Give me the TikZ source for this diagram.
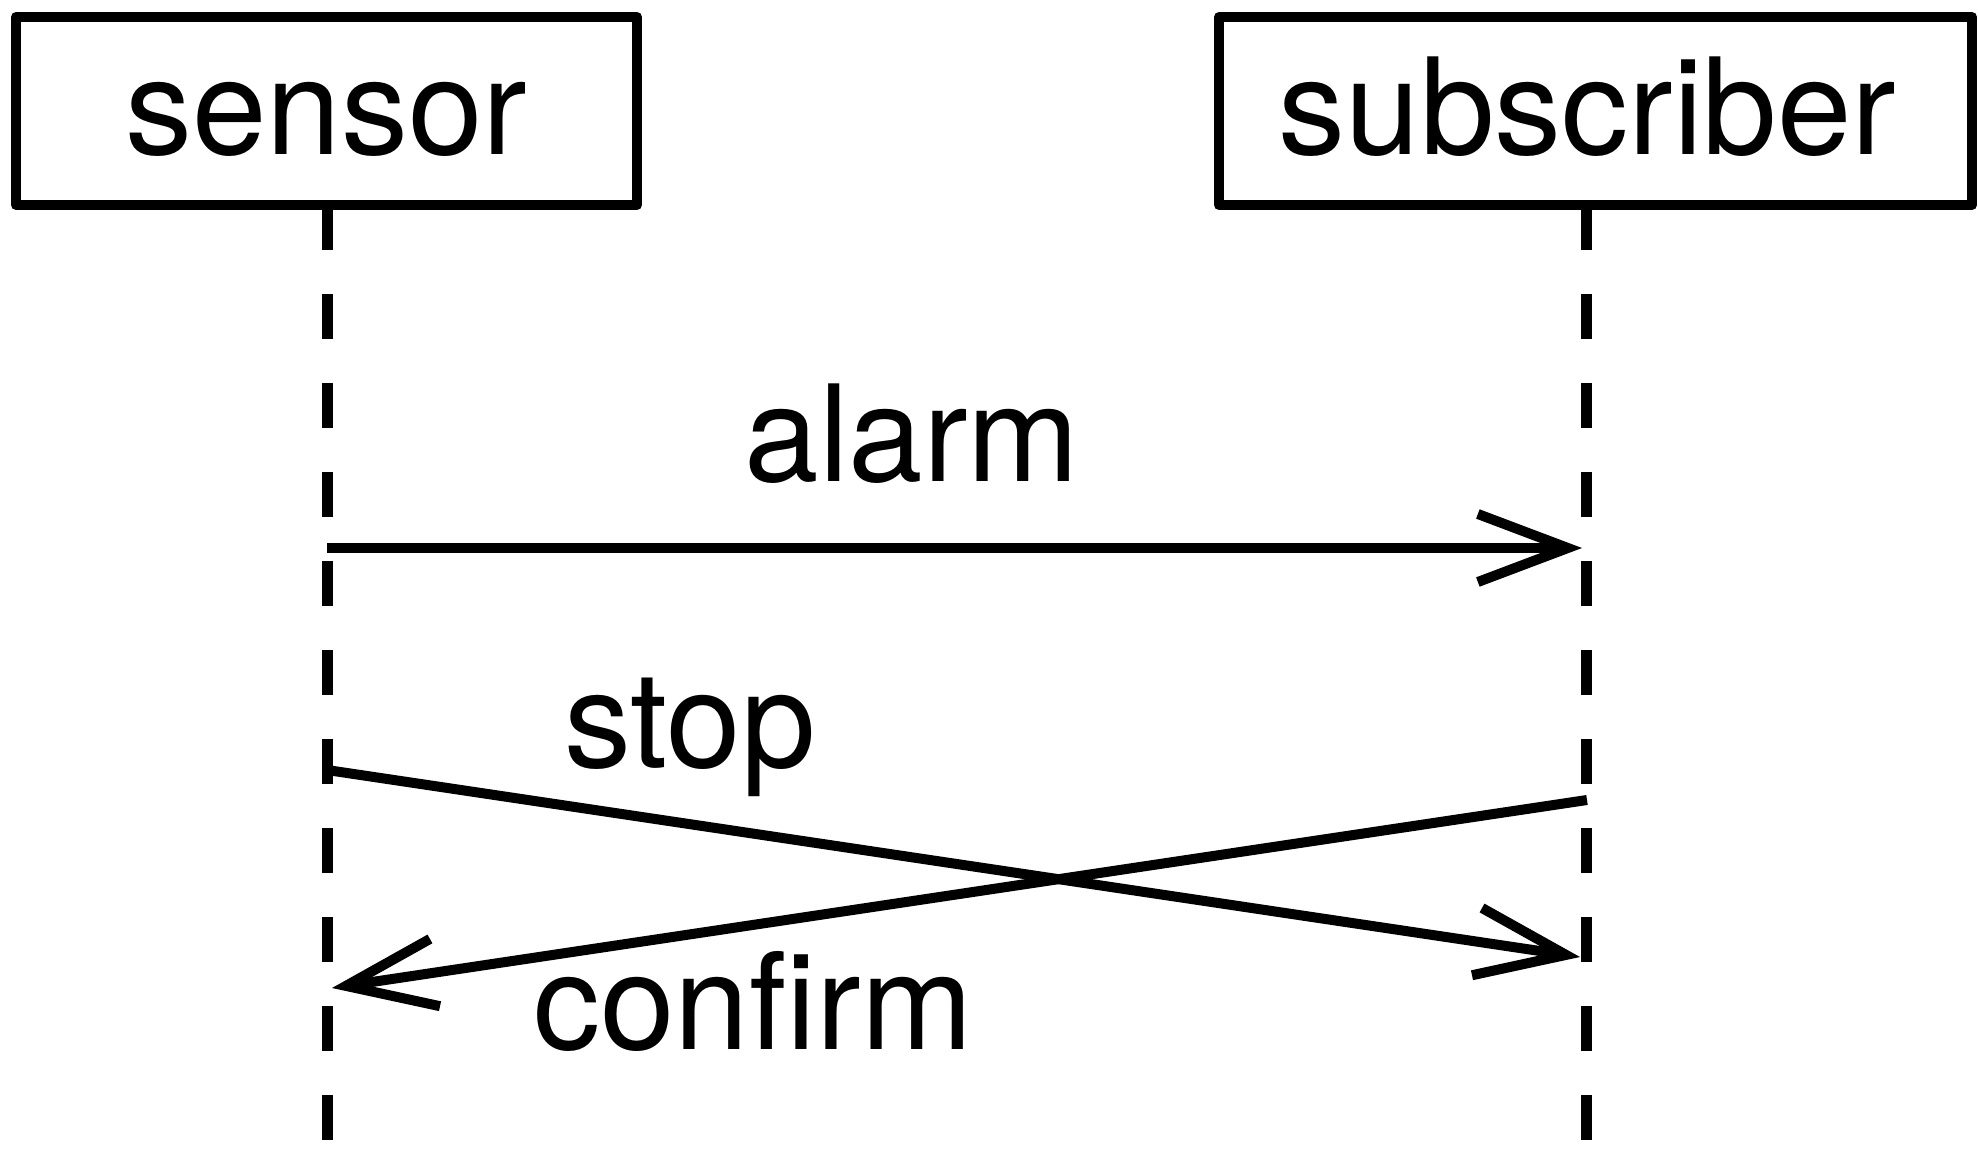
\documentclass[tikz,border=0pt]{standalone}
\usepackage{fontspec}
\setmainfont{TeX Gyre Heros}
\usetikzlibrary{arrows.meta}
\begin{document}
\begin{tikzpicture}[x=0.5pt,y=-0.5pt,
  actor/.style={draw, line width=5pt, line join=round, outer sep=0pt, inner sep=0pt,
    minimum height=94pt, text height=44pt, text depth=0pt, font=\fontsize{67}{80}\selectfont},
  lifeline/.style={line width=5.5pt, line cap=butt, dash pattern=on 22.5pt off 22pt},
  msg/.style={line width=5pt, -{Straight Barb[length=45pt,width=34pt,sharp]}},
  lbl/.style={inner sep=0pt, anchor=base, font=\fontsize{67}{80}\selectfont}]
\useasboundingbox (0,0) rectangle (1978,1156);
\node[actor, minimum width=310.5pt] (sensor) at (326.5,111) {sensor};
\node[actor, minimum width=376.5pt] (subscriber) at (1595.5,111) {subscriber\hspace*{8pt}};
\coordinate (sensorEnd) at (327,1160);
\coordinate (subEnd) at (1586.5,1160);
\draw[lifeline] (sensor.south -| sensorEnd) -- (sensorEnd);
\draw[lifeline] (subscriber.south -| subEnd) -- (subEnd);
\coordinate (alarmFrom) at (327,548);
\coordinate (alarmTo) at (1582,548);
\coordinate (stopFrom) at (327,770);
\coordinate (stopTo) at (1580,957);
\coordinate (confirmFrom) at (1587,800);
\coordinate (confirmTo) at (332,988);
\draw[msg] (alarmFrom) -- (alarmTo);
\draw[msg] (stopFrom) -- (stopTo);
\draw[msg] (confirmFrom) -- (confirmTo);
\node[lbl] (alarm) at (912,481) {alarm};
\node[lbl] (stop) at (690,767) {stop};
\node[lbl] (confirm) at (753,1049) {confirm};
\end{tikzpicture}
\end{document}
